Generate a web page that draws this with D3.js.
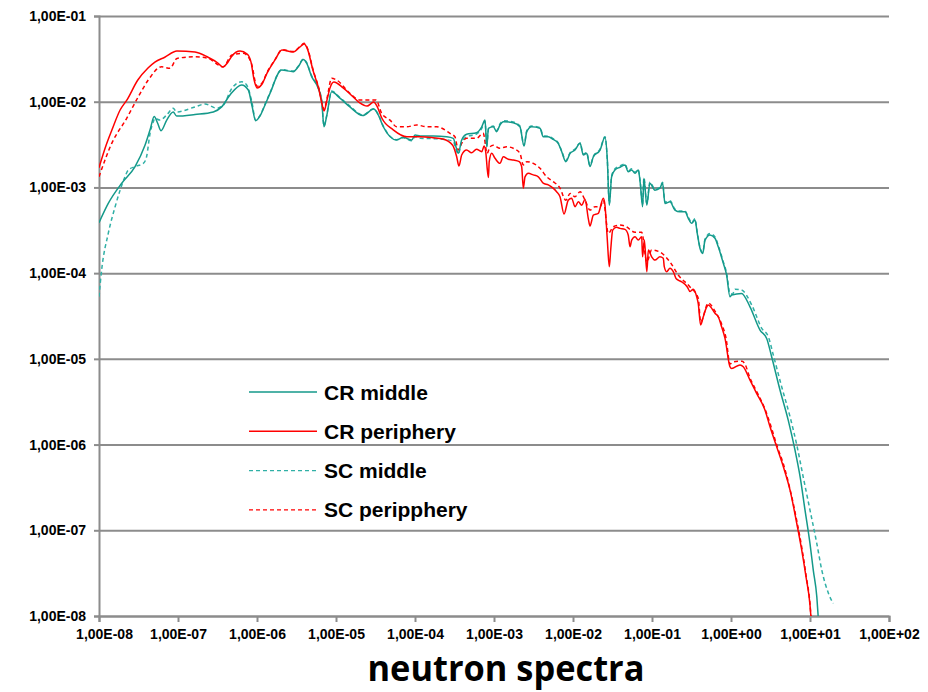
<!DOCTYPE html>
<html>
<head>
<meta charset="utf-8">
<script src="https://cdn.jsdelivr.net/npm/d3@7"></script>
<style>
  body { margin: 0; background: #fff; }
  svg { display: block; }
  .tick text { font-family: "Liberation Sans", Arial, sans-serif; font-weight: bold; font-size: 14px; fill: #000; }
</style>
</head>
<body>
<svg id="viz" width="928" height="692"></svg>
<script>
// energy [MeV], flux per lethargy
var crMiddle = [
  [1e-8, 3.87e-4], [1.31e-8, 6.5e-4], [1.94e-8, 1.12e-3], [2.86e-8, 1.75e-3], [3.82e-8, 3.1e-3],
  [4.43e-8, 4.7e-3], [5.0e-8, 6.7e-3], [5.53e-8, 5.6e-3], [6.1e-8, 4.59e-3], [7.2e-8, 6.1e-3],
  [8.7e-8, 7.6e-3], [9.6e-8, 6.8e-3], [1.64e-7, 7.1e-3], [2.8e-7, 7.6e-3], [3.57e-7, 8.7e-3],
  [4.55e-7, 1.2e-2], [6.4e-7, 1.57e-2], [7.76e-7, 1.37e-2], [8.7e-7, 8.7e-3], [9.6e-7, 6.0e-3],
  [1.09e-6, 6.8e-3], [1.26e-6, 9.1e-3], [1.46e-6, 1.25e-2], [2.05e-6, 2.34e-2], [2.88e-6, 2.24e-2],
  [3.33e-6, 2.56e-2], [3.85e-6, 3.1e-2], [4.26e-6, 2.8e-2], [4.92e-6, 1.96e-2], [5.97e-6, 1.43e-2],
  [6.6e-6, 1.0e-2], [7.05e-6, 5.1e-3], [7.6e-6, 6.7e-3], [8.8e-6, 1.31e-2], [1.12e-5, 1.1e-2],
  [1.5e-5, 8.7e-3], [2.18e-5, 6.9e-3], [3.0e-5, 8.2e-3], [3.43e-5, 7.0e-3], [3.97e-5, 5.1e-3],
  [5.87e-5, 3.57e-3], [7.1e-5, 3.84e-3], [9.1e-5, 3.57e-3], [1.0e-4, 4.09e-3], [1.16e-4, 3.98e-3],
  [1.7e-4, 3.98e-3], [2.52e-4, 3.9e-3], [3.05e-4, 3.74e-3], [3.3e-4, 2.98e-3], [3.53e-4, 2.5e-3],
  [3.9e-4, 3.57e-3], [4.5e-4, 4.17e-3], [6.0e-4, 4.35e-3], [7.0e-4, 5.1e-3], [7.7e-4, 6.1e-3],
  [8.1e-4, 2.98e-3], [8.5e-4, 4.9e-3], [9.8e-4, 5.1e-3], [1.08e-3, 4.47e-3], [1.19e-3, 5.35e-3],
  [1.31e-3, 5.85e-3], [1.75e-3, 5.7e-3], [2.13e-3, 5.1e-3], [2.4e-3, 3.04e-3], [2.6e-3, 4.47e-3],
  [3.0e-3, 5.1e-3], [3.82e-3, 4.9e-3], [4.2e-3, 3.9e-3], [4.87e-3, 3.9e-3], [5.6e-3, 3.64e-3],
  [6.5e-3, 3.27e-3], [7.2e-3, 2.61e-3], [8.1e-3, 2.0e-3], [9.2e-3, 2.5e-3], [1.06e-2, 2.73e-3],
  [1.23e-2, 3.27e-3], [1.35e-2, 2.39e-3], [1.49e-2, 2.5e-3], [1.64e-2, 1.75e-3], [1.81e-2, 2.28e-3],
  [2.2e-2, 2.73e-3], [2.54e-2, 3.84e-3], [2.72e-2, 2.09e-3], [2.88e-2, 6.2e-4], [3.08e-2, 1.33e-3],
  [3.4e-2, 1.6e-3], [3.94e-2, 1.72e-3], [4.55e-2, 1.83e-3], [5.0e-2, 1.52e-3], [5.53e-2, 1.6e-3],
  [6.1e-2, 1.46e-3], [6.7e-2, 1.6e-3], [7.1e-2, 1.12e-3], [7.6e-2, 5.96e-4], [7.9e-2, 1.28e-3],
  [8.6e-2, 6.2e-4], [9.4e-2, 1.12e-3], [1.09e-1, 9.3e-4], [1.26e-1, 9.8e-4], [1.36e-1, 1.13e-3],
  [1.46e-1, 6.5e-4], [1.69e-1, 6.8e-4], [1.95e-1, 5.45e-4], [2.26e-1, 5.2e-4], [2.62e-1, 5.2e-4],
  [2.88e-1, 4.36e-4], [3.18e-1, 3.81e-4], [3.5e-1, 4.17e-4], [3.74e-1, 2.91e-4], [4.05e-1, 1.95e-4],
  [4.39e-1, 1.7e-4], [4.69e-1, 2.43e-4], [5.42e-1, 2.79e-4], [6.27e-1, 2.55e-4], [6.9e-1, 2.03e-4],
  [8.0e-1, 1.3e-4], [8.8e-1, 9.5e-5], [9.7e-1, 5.3e-5], [1.02, 5.55e-5], [1.36, 5.8e-5],
  [1.74, 4.05e-5], [2.33, 2.17e-5], [2.83, 1.73e-5], [3.27, 1.06e-5], [4.17, 4.33e-6],
  [5.3, 1.93e-6], [6.46, 8.6e-7], [7.5, 4.2e-7], [8.65, 1.72e-7], [10.0, 7.0e-8],
  [11.0, 3.43e-8], [12.2, 1.67e-8], [12.7, 9.8e-9]
];

var crPeriphery = [
  [1e-8, 1.7e-3], [1.23e-8, 3.1e-3], [1.46e-8, 4.7e-3], [1.85e-8, 8.0e-3], [2.26e-8, 1.05e-2],
  [3.1e-8, 1.79e-2], [4.17e-8, 2.47e-2], [5.1e-8, 2.9e-2], [6.8e-8, 3.3e-2], [9.7e-8, 3.9e-2],
  [1.64e-7, 3.8e-2], [2.4e-7, 3.3e-2], [3.2e-7, 2.83e-2], [3.7e-7, 2.54e-2], [4.3e-7, 2.9e-2],
  [4.8e-7, 3.4e-2], [6.1e-7, 3.9e-2], [7.5e-7, 3.6e-2], [8.4e-7, 2.9e-2], [9.2e-7, 1.79e-2],
  [1.0e-6, 1.45e-2], [1.16e-6, 1.61e-2], [1.34e-6, 2.16e-2], [1.69e-6, 3.07e-2], [2.07e-6, 4.0e-2],
  [2.86e-6, 3.8e-2], [3.5e-6, 4.35e-2], [3.94e-6, 4.7e-2], [4.4e-6, 4.0e-2], [5.1e-6, 2.34e-2],
  [6.1e-6, 1.37e-2], [6.65e-6, 9.4e-3], [7.05e-6, 7.8e-3], [7.7e-6, 1.05e-2], [8.4e-6, 1.45e-2],
  [9.4e-6, 1.7e-2], [1.23e-5, 1.45e-2], [1.6e-5, 1.17e-2], [2.0e-5, 9.7e-3], [2.47e-5, 8.9e-3],
  [3.0e-5, 9.9e-3], [3.3e-5, 8.9e-3], [3.8e-5, 6.45e-3], [5.3e-5, 4.7e-3], [7.9e-5, 3.9e-3],
  [1.16e-4, 3.9e-3], [1.69e-4, 3.8e-3], [2.26e-4, 3.67e-3], [3.0e-4, 3.1e-3], [3.37e-4, 2.28e-3],
  [3.6e-4, 1.78e-3], [3.9e-4, 2.39e-3], [4.5e-4, 2.73e-3], [5.2e-4, 2.54e-3], [6.0e-4, 2.79e-3],
  [7.0e-4, 2.61e-3], [7.5e-4, 3.04e-3], [7.9e-4, 2.5e-3], [8.2e-4, 1.67e-3], [8.5e-4, 1.31e-3],
  [8.7e-4, 2.0e-3], [9.35e-4, 2.5e-3], [1.03e-3, 2.19e-3], [1.19e-3, 1.91e-3], [1.31e-3, 2.28e-3],
  [1.52e-3, 2.13e-3], [1.75e-3, 2.09e-3], [2.09e-3, 2.0e-3], [2.24e-3, 1.75e-3], [2.35e-3, 9.8e-4],
  [2.47e-3, 1.33e-3], [2.72e-3, 1.46e-3], [3.14e-3, 1.4e-3], [3.64e-3, 1.33e-3], [4.2e-3, 1.12e-3],
  [4.87e-3, 1.07e-3], [5.6e-3, 9.8e-4], [6.2e-3, 8.9e-4], [6.85e-3, 7.8e-4], [7.7e-3, 4.9e-4],
  [8.7e-3, 7.1e-4], [9.6e-3, 7.5e-4], [1.06e-2, 5.96e-4], [1.17e-2, 6.8e-4], [1.29e-2, 6.2e-4],
  [1.42e-2, 7.3e-4], [1.56e-2, 4.36e-4], [1.64e-2, 3.55e-4], [1.81e-2, 4.76e-4], [2.09e-2, 4.99e-4],
  [2.42e-2, 7.5e-4], [2.54e-2, 6.2e-4], [2.72e-2, 2.43e-4], [2.88e-2, 1.19e-4], [3.0e-2, 1.86e-4],
  [3.18e-2, 3.18e-4], [3.57e-2, 3.42e-4], [3.94e-2, 3.33e-4], [4.55e-2, 3.24e-4], [5.0e-2, 2.79e-4],
  [5.27e-2, 2.03e-4], [5.53e-2, 2.43e-4], [6.1e-2, 2.66e-4], [6.7e-2, 2.43e-4], [7.4e-2, 2.66e-4],
  [7.6e-2, 1.55e-4], [8.0e-2, 2.43e-4], [8.6e-2, 1.04e-4], [9.0e-2, 1.86e-4], [9.9e-2, 1.55e-4],
  [1.09e-1, 1.42e-4], [1.26e-1, 1.55e-4], [1.39e-1, 1.49e-4], [1.43e-1, 1.19e-4], [1.53e-1, 1.04e-4],
  [1.69e-1, 1.14e-4], [1.86e-1, 1.04e-4], [2.01e-1, 8.7e-5], [2.15e-1, 8.3e-5], [2.38e-1, 7.9e-5],
  [2.8e-1, 6.9e-5], [3.03e-1, 6.1e-5], [3.33e-1, 6.5e-5], [3.68e-1, 5.3e-5], [3.85e-1, 4.4e-5],
  [4.13e-1, 2.48e-5], [4.46e-1, 3.1e-5], [4.83e-1, 3.88e-5], [5.16e-1, 4.25e-5], [5.7e-1, 3.88e-5],
  [6.27e-1, 3.4e-5], [6.9e-1, 3.1e-5], [7.6e-1, 2.37e-5], [8.4e-1, 1.73e-5], [9.7e-1, 8.1e-6],
  [1.02, 7.7e-6], [1.3, 8.5e-6], [1.43, 8.1e-6], [1.74, 5.66e-6], [2.11, 3.96e-6],
  [2.69, 2.53e-6], [3.12, 1.61e-6], [3.79, 9.4e-7], [4.6, 5.5e-7], [5.59, 2.94e-7],
  [6.8, 1.2e-7], [7.85, 5.9e-8], [8.9, 2.87e-8], [10.0, 1.34e-8], [10.3, 9.5e-9]
];

var scMiddle = [
  [1e-8, 5.3e-5], [1.08e-8, 1.09e-4], [1.31e-8, 2.91e-4], [1.6e-8, 5.96e-4], [1.85e-8, 9.3e-4],
  [2.13e-8, 1.33e-3], [2.35e-8, 1.6e-3], [2.86e-8, 1.75e-3], [3.64e-8, 1.91e-3], [4.0e-8, 2.28e-3],
  [4.43e-8, 4.28e-3], [4.87e-8, 5.85e-3], [5.1e-8, 6.4e-3], [5.9e-8, 6.1e-3], [7.2e-8, 7.0e-3],
  [8.7e-8, 8.4e-3], [9.6e-8, 7.6e-3], [1.64e-7, 8.7e-3], [2.2e-7, 9.4e-3], [3.09e-7, 8.4e-3],
  [3.74e-7, 9.1e-3], [4.8e-7, 1.43e-2], [6.4e-7, 1.71e-2], [7.4e-7, 1.57e-2], [8.6e-7, 1.0e-2],
  [9.6e-7, 6.1e-3], [1.09e-6, 6.9e-3], [1.26e-6, 9.3e-3], [1.46e-6, 1.27e-2], [2.05e-6, 2.36e-2],
  [2.88e-6, 2.28e-2], [3.33e-6, 2.6e-2], [3.85e-6, 3.15e-2], [4.26e-6, 2.85e-2], [4.92e-6, 2.0e-2],
  [5.97e-6, 1.45e-2], [6.6e-6, 1.02e-2], [7.05e-6, 5.2e-3], [7.6e-6, 6.8e-3], [8.8e-6, 1.33e-2],
  [1.12e-5, 1.12e-2], [1.5e-5, 8.9e-3], [2.18e-5, 7.0e-3], [3.0e-5, 8.3e-3], [3.43e-5, 7.1e-3],
  [3.97e-5, 5.2e-3], [5.87e-5, 3.6e-3], [7.1e-5, 3.8e-3], [9.1e-5, 3.5e-3], [1.0e-4, 3.9e-3],
  [1.16e-4, 3.75e-3], [1.7e-4, 3.7e-3], [2.52e-4, 3.6e-3], [3.05e-4, 3.45e-3], [3.3e-4, 2.8e-3],
  [3.53e-4, 2.45e-3], [3.9e-4, 3.4e-3], [4.5e-4, 3.9e-3], [6.0e-4, 4.2e-3], [7.0e-4, 4.9e-3],
  [7.7e-4, 5.9e-3], [8.1e-4, 3.0e-3], [8.5e-4, 4.8e-3], [9.8e-4, 5.2e-3], [1.08e-3, 4.6e-3],
  [1.19e-3, 5.5e-3], [1.31e-3, 6.0e-3], [1.75e-3, 5.8e-3], [2.13e-3, 5.2e-3], [2.4e-3, 3.1e-3],
  [2.6e-3, 4.6e-3], [3.0e-3, 5.2e-3], [3.82e-3, 5.0e-3], [4.2e-3, 4.0e-3], [4.87e-3, 3.95e-3],
  [5.6e-3, 3.7e-3], [6.5e-3, 3.3e-3], [7.2e-3, 2.65e-3], [8.1e-3, 2.05e-3], [9.2e-3, 2.55e-3],
  [1.06e-2, 2.8e-3], [1.23e-2, 3.3e-3], [1.35e-2, 2.45e-3], [1.49e-2, 2.55e-3], [1.64e-2, 1.8e-3],
  [1.81e-2, 2.3e-3], [2.2e-2, 2.8e-3], [2.54e-2, 3.9e-3], [2.72e-2, 2.1e-3], [2.88e-2, 6.4e-4],
  [3.08e-2, 1.35e-3], [3.4e-2, 1.65e-3], [3.94e-2, 1.78e-3], [4.55e-2, 1.88e-3], [5.0e-2, 1.55e-3],
  [5.53e-2, 1.65e-3], [6.1e-2, 1.5e-3], [6.7e-2, 1.62e-3], [7.1e-2, 1.15e-3], [7.6e-2, 6.3e-4],
  [7.9e-2, 1.3e-3], [8.6e-2, 6.5e-4], [9.4e-2, 1.15e-3], [1.09e-1, 9.6e-4], [1.26e-1, 1.0e-3],
  [1.36e-1, 1.15e-3], [1.46e-1, 6.7e-4], [1.69e-1, 7.0e-4], [1.95e-1, 5.6e-4], [2.26e-1, 5.3e-4],
  [2.62e-1, 5.3e-4], [2.88e-1, 4.5e-4], [3.18e-1, 3.9e-4], [3.5e-1, 4.3e-4], [3.74e-1, 3.0e-4],
  [4.05e-1, 2.0e-4], [4.39e-1, 1.75e-4], [4.69e-1, 2.5e-4], [5.42e-1, 2.9e-4], [6.27e-1, 2.65e-4],
  [6.9e-1, 2.1e-4], [8.0e-1, 1.35e-4], [8.8e-1, 1.0e-4], [9.7e-1, 5.8e-5], [1.05, 5.7e-5],
  [1.12, 6.5e-5], [1.36, 6.35e-5], [1.83, 4.25e-5], [2.45, 2.27e-5], [2.97, 1.81e-5],
  [3.43, 1.11e-5], [4.38, 4.73e-6], [5.59, 2.11e-6], [6.8, 9.9e-7], [8.2, 4.2e-7],
  [10.0, 1.72e-7], [12.2, 7.0e-8], [14.1, 3.43e-8], [17.1, 1.84e-8], [19.7, 1.4e-8]
];

var scPeriphery = [
  [1e-8, 1.33e-3], [1.45e-8, 3.27e-3], [2.24e-8, 6.4e-3], [3.14e-8, 1.14e-2], [4.2e-8, 1.79e-2],
  [6.2e-8, 2.56e-2], [7.9e-8, 2.45e-2], [9.7e-8, 3.2e-2], [1.64e-7, 3.35e-2], [2.4e-7, 3.2e-2],
  [3.74e-7, 2.56e-2], [4.8e-7, 3.5e-2], [6.7e-7, 3.67e-2], [8.4e-7, 2.9e-2], [1.0e-6, 1.52e-2],
  [1.16e-6, 1.65e-2], [1.34e-6, 2.2e-2], [1.69e-6, 3.1e-2], [2.07e-6, 4.05e-2], [2.86e-6, 3.85e-2],
  [3.5e-6, 4.4e-2], [3.94e-6, 4.8e-2], [4.4e-6, 4.1e-2], [5.1e-6, 2.4e-2], [6.1e-6, 1.4e-2],
  [6.65e-6, 9.7e-3], [7.05e-6, 8.1e-3], [7.7e-6, 1.1e-2], [8.8e-6, 1.88e-2], [1.02e-5, 1.79e-2],
  [1.5e-5, 1.25e-2], [2.0e-5, 1.05e-2], [2.69e-5, 1.05e-2], [3.2e-5, 1.05e-2], [3.79e-5, 7.3e-3],
  [4.83e-5, 6.1e-3], [5.87e-5, 5.1e-3], [7.85e-5, 5.1e-3], [1.05e-4, 5.35e-3], [1.41e-4, 5.1e-3],
  [1.88e-4, 5.1e-3], [2.77e-4, 4.28e-3], [3.2e-4, 3.9e-3], [3.53e-4, 2.73e-3], [3.9e-4, 3.27e-3],
  [4.5e-4, 3.74e-3], [6.0e-4, 3.74e-3], [7.3e-4, 4.28e-3], [8.2e-4, 2.5e-3], [8.9e-4, 2.98e-3],
  [9.8e-4, 3.1e-3], [1.19e-3, 2.86e-3], [1.45e-3, 2.98e-3], [1.85e-3, 2.79e-3], [2.13e-3, 2.5e-3],
  [2.35e-3, 1.83e-3], [2.6e-3, 2.0e-3], [3.14e-3, 1.91e-3], [3.82e-3, 1.67e-3], [4.65e-3, 1.33e-3],
  [5.6e-3, 1.17e-3], [6.85e-3, 9.8e-4], [8.1e-3, 7.1e-4], [9.2e-3, 8.5e-4], [1.06e-2, 7.8e-4],
  [1.23e-2, 8.9e-4], [1.42e-2, 7.1e-4], [1.64e-2, 5.45e-4], [1.9e-2, 5.96e-4], [2.2e-2, 5.96e-4],
  [2.42e-2, 7.1e-4], [2.8e-2, 2.91e-4], [3.24e-2, 3.48e-4], [3.94e-2, 3.64e-4], [4.55e-2, 3.55e-4],
  [6.1e-2, 3.0e-4], [7.4e-2, 3.0e-4], [8.6e-2, 1.35e-4], [9.9e-2, 1.86e-4], [1.26e-1, 1.76e-4],
  [1.69e-1, 1.35e-4], [2.15e-1, 9.5e-5], [3.03e-1, 6.9e-5], [3.85e-1, 5.1e-5], [4.13e-1, 2.69e-5],
  [5.16e-1, 4.48e-5], [6.27e-1, 3.6e-5], [7.6e-1, 2.55e-5], [8.65e-1, 1.75e-5], [9.7e-1, 8.7e-6],
  [1.06, 9.2e-6], [1.38, 9.4e-6], [1.5, 8.7e-6], [1.74, 5.97e-6], [2.13, 4.1e-6],
  [2.69, 2.6e-6], [3.2, 1.64e-6], [3.83, 9.6e-7], [4.69, 5.6e-7], [5.59, 3.0e-7],
  [6.85, 1.25e-7], [7.94, 6.0e-8], [8.9, 3.0e-8], [10.0, 1.38e-8], [10.3, 9.7e-9]
];

var seriesNames = ["CR middle", "CR periphery", "SC middle", "SC peripphery"];
var seriesColors = ["#14998a", "#ff0000", "#30b0a6", "#ff0000"];
var seriesDash = [null, null, "4,3", "4,3"];
var xTicks = [1e-8, 1e-7, 1e-6, 1e-5, 1e-4, 1e-3, 1e-2, 1e-1, 1e0, 1e1, 1e2];
var yTicks = [1e-8, 1e-7, 1e-6, 1e-5, 1e-4, 1e-3, 1e-2, 1e-1];
var title = "neutron spectra";

var svg = d3.select("#viz");
var margin = { top: 16, left: 99, right: 39, bottom: 76 };
var width = 928 - margin.left - margin.right,
    height = 692 - margin.top - margin.bottom;

var x = d3.scaleLog().domain([1e-8, 1e2]).range([0, width]);
var y = d3.scaleLog().domain([1e-8, 1e-1]).range([height, 0]);

function sci(v) {
    var e = Math.round(Math.log10(v));
    return "1,00E" + (e < 0 ? "-" : "+") + (Math.abs(e) < 10 ? "0" : "") + Math.abs(e);
}

var g = svg.append("g")
    .attr("transform", "translate(" + margin.left + "," + margin.top + ")");

// horizontal grid
g.append("g")
    .attr("class", "grid")
    .call(d3.axisLeft(y).tickValues(yTicks).tickSize(-width).tickFormat(""))
    .call(function (s) { s.select(".domain").remove(); })
    .selectAll("line")
    .attr("stroke", "#8c8c8c")
    .attr("stroke-width", 2);

// y axis
g.append("g")
    .attr("class", "axis axis--y")
    .call(d3.axisLeft(y).tickValues(yTicks).tickSize(5).tickPadding(8).tickFormat(sci))
    .call(function (s) {
        s.select(".domain").attr("stroke", "#8c8c8c").attr("stroke-width", 2);
        s.selectAll("line").attr("stroke", "#8c8c8c").attr("stroke-width", 2);
    });

// x axis
g.append("g")
    .attr("class", "axis axis--x")
    .attr("transform", "translate(0," + height + ")")
    .call(d3.axisBottom(x).tickValues(xTicks).tickSize(6).tickPadding(7).tickFormat(sci))
    .call(function (s) {
        s.select(".domain").attr("stroke", "#8c8c8c").attr("stroke-width", 2);
        s.selectAll("line").attr("stroke", "#8c8c8c").attr("stroke-width", 2);
        s.select(".tick text").attr("dx", 5);
    });

svg.append("clipPath").attr("id", "clip")
    .append("rect").attr("x", 0).attr("y", 0).attr("width", width).attr("height", height);

var line = d3.line()
    .curve(d3.curveMonotoneX)
    .x(function (d) { return x(d[0]); })
    .y(function (d) { return y(d[1]); });

var allSeries = [crMiddle, crPeriphery, scMiddle, scPeriphery];
var drawOrder = [2, 3, 0, 1];

g.append("g")
    .attr("clip-path", "url(#clip)")
    .selectAll("path")
    .data(drawOrder)
    .enter().append("path")
    .attr("d", function (i) { return line(allSeries[i]); })
    .attr("fill", "none")
    .attr("stroke", function (i) { return seriesColors[i]; })
    .attr("stroke-width", 1.5)
    .attr("stroke-dasharray", function (i) { return seriesDash[i]; });

// legend
var legend = svg.append("g").attr("transform", "translate(249,392)");
var item = legend.selectAll("g")
    .data(seriesNames)
    .enter().append("g")
    .attr("transform", function (d, i) { return "translate(0," + (i * 39.3) + ")"; });
item.append("line")
    .attr("x1", 0).attr("x2", 68)
    .attr("stroke", function (d, i) { return seriesColors[i]; })
    .attr("stroke-width", 1.4)
    .attr("stroke-dasharray", function (d, i) { return seriesDash[i]; });
item.append("text")
    .attr("x", 75)
    .attr("dy", "0.36em")
    .attr("font-family", "Liberation Sans, Arial, sans-serif")
    .attr("font-weight", "bold")
    .attr("font-size", 21)
    .text(function (d) { return d; });

svg.append("text")
    .attr("x", 506)
    .attr("y", 681)
    .attr("text-anchor", "middle")
    .attr("font-family", "Open Sans, sans-serif")
    .attr("font-weight", "bold")
    .attr("font-size", 35)
    .attr("textLength", 277)
    .attr("lengthAdjust", "spacingAndGlyphs")
    .text(title);
</script>
</body>
</html>
